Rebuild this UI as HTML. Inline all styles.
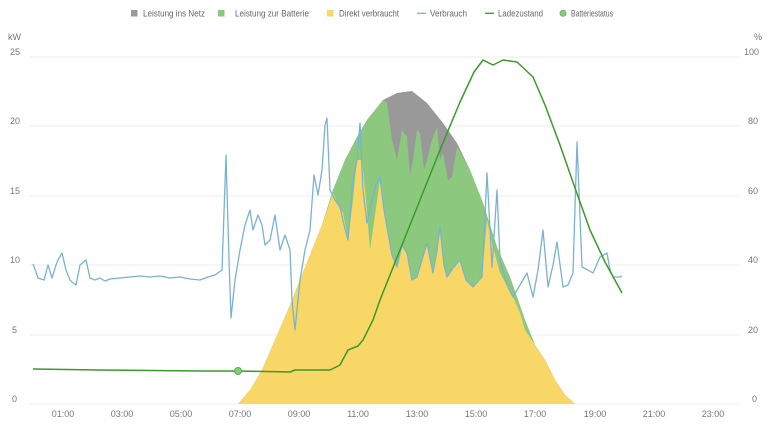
<!DOCTYPE html>
<html><head><meta charset="utf-8"><style>
body{margin:0;background:#fff;font-family:"Liberation Sans",sans-serif;}
svg text{font-family:"Liberation Sans",sans-serif;font-size:9px;fill:#777;}
</style></head><body>
<svg width="768" height="426" xmlns="http://www.w3.org/2000/svg">
<g>
<rect x="131" y="10" width="6.5" height="6.5" fill="#999"/><text x="143" y="16.5" textLength="62" lengthAdjust="spacingAndGlyphs" style="font-size:9px;fill:#666">Leistung ins Netz</text>
<rect x="218" y="10" width="6.5" height="6.5" fill="#8cc97f"/><text x="235" y="16.5" textLength="74" lengthAdjust="spacingAndGlyphs" style="font-size:9px;fill:#666">Leistung zur Batterie</text>
<rect x="327" y="10" width="6.5" height="6.5" fill="#f9d766"/><text x="339" y="16.5" textLength="60" lengthAdjust="spacingAndGlyphs" style="font-size:9px;fill:#666">Direkt verbraucht</text>
<line x1="417" y1="13.3" x2="426" y2="13.3" stroke="#7ab3cc" stroke-width="1.3"/><text x="430" y="16.5" textLength="37" lengthAdjust="spacingAndGlyphs" style="font-size:9px;fill:#666">Verbrauch</text>
<line x1="485" y1="13.3" x2="494" y2="13.3" stroke="#3a9a2a" stroke-width="1.3"/><text x="498" y="16.5" textLength="45" lengthAdjust="spacingAndGlyphs" style="font-size:9px;fill:#666">Ladezustand</text>
<circle cx="563" cy="13.3" r="3" fill="#8cc97f" stroke="#6ab85a"/><text x="571" y="16.5" textLength="42" lengthAdjust="spacingAndGlyphs" style="font-size:9px;fill:#666">Batteriestatus</text>
</g>
<text x="8" y="40">kW</text><text x="754" y="40">%</text>
<g stroke="#eee" stroke-width="1">
<line x1="30" y1="57" x2="740" y2="57"/><line x1="30" y1="126" x2="740" y2="126"/><line x1="30" y1="196" x2="740" y2="196"/><line x1="30" y1="265" x2="740" y2="265"/><line x1="30" y1="335" x2="740" y2="335"/><line x1="30" y1="404" x2="740" y2="404"/>
</g>
<text x="10" y="55">25</text><text x="10" y="124">20</text><text x="10" y="194">15</text><text x="10" y="263">10</text><text x="12" y="333">5</text><text x="12" y="402">0</text>
<text x="744" y="55">100</text><text x="748" y="124">80</text><text x="748" y="194">60</text><text x="748" y="263">40</text><text x="748" y="333">20</text><text x="752" y="402">0</text>
<g text-anchor="middle">
<text x="63" y="417">01:00</text><text x="122" y="417">03:00</text><text x="181" y="417">05:00</text><text x="240" y="417">07:00</text><text x="299" y="417">09:00</text><text x="358" y="417">11:00</text><text x="417" y="417">13:00</text><text x="476" y="417">15:00</text><text x="535" y="417">17:00</text><text x="595" y="417">19:00</text><text x="654" y="417">21:00</text><text x="713" y="417">23:00</text>
</g>
<polygon fill="#999" points="238,404 250,390 262,370 275,340 288,310 300,280 312,250 322,225 333,190 345,160 357,137 367,120 383,100 397,93 412,91 427,103 443,123 457,143 470,170 483,203 497,247 510,277 517,297 525,320 535,345 545,360 555,380 565,395 575,404"/>
<polygon fill="#8cc97f" points="238,404 250,390 262,370 275,340 288,310 300,280 312,250 322,225 333,190 345,160 357,137 367,120 383,100 387,103 392,140 397,160 402,130 407,137 410,175 413,160 417,130 420,133 424,170 427,160 432,140 437,127 440,160 443,153 448,180 452,177 457,147 470,170 483,203 497,247 510,277 517,297 525,320 535,345 545,360 555,380 565,395 575,404"/>
<polygon fill="#f9d766" points="238,404 250,390 262,370 275,340 288,310 300,280 312,250 322,225 333,193 338,205 343,213 348,240 353,200 357,160 362,160 366,200 370,250 375,215 380,180 384,210 387,227 392,255 397,267 402,245 407,253 412,280 417,277 422,260 427,243 433,273 437,250 440,227 444,265 447,277 453,268 460,260 466,280 473,287 482,277 487,220 493,247 500,273 513,297 520,313 525,330 535,345 545,360 555,380 565,395 575,404"/>
<polyline fill="none" stroke="#7ab3cc" stroke-width="1.3" stroke-linejoin="round" points="33,264 36,272 38,278 44,280 48,265 52,278 56,265 58,260 62,253 66,270 70,280 72,282 76,285 80,265 86,260 90,278 95,280 100,278 105,281 110,279 120,278 130,277 140,276 150,277 160,276 170,278 180,277 190,279 200,280 208,277 215,275 222,270 226,155 229,260 231,318 235,280 240,250 245,225 250,210 253,230 258,215 262,225 265,245 270,240 275,215 280,250 285,235 290,250 292,300 295,330 300,280 305,250 310,230 314,175 318,195 322,170 325,125 327,118 330,190 335,200 340,207 344,225 348,240 353,180 357,160 360,123 363,190 367,223 372,200 376,185 380,177 384,210 387,227 392,255 397,267 402,245 407,253 412,280 417,277 422,260 427,243 433,273 437,250 440,227 444,265 447,277 453,268 460,260 466,280 473,287 482,277 487,173 492,267 497,190 500,260 507,285 513,297 520,285 527,273 533,297 538,270 543,230 548,287 553,265 557,242 563,287 568,285 573,273 577,142 582,267 588,270 593,273 600,257 607,253 610,270 613,277 620,277 622,276"/>
<polyline fill="none" stroke="#3a9a2a" stroke-width="1.5" stroke-linejoin="round" points="33,369 100,370 200,371 238,371 290,372 295,370 330,370 340,365 348,350 358,346 363,340 373,320 380,300 400,250 420,200 440,150 460,102 474,72 483,60 493,65 503,60 517,62 533,77 545,105 560,145 575,188 590,230 605,262 622,293"/>
<circle cx="238" cy="371" r="3.5" fill="#8cc97f" stroke="#5aaa4a"/>
</svg>
</body></html>
